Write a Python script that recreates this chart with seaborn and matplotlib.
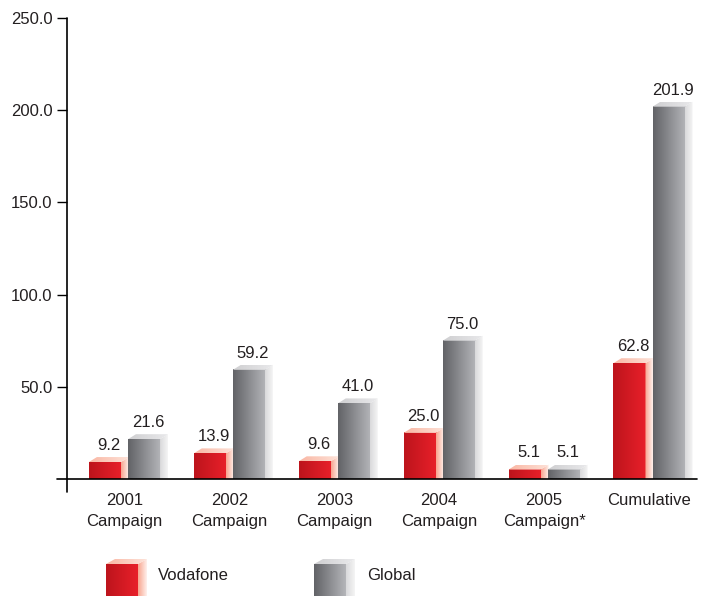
import numpy as np
import pandas as pd
import seaborn as sns
import matplotlib.pyplot as plt
from matplotlib.patches import Polygon
from matplotlib.colors import LinearSegmentedColormap

# data
categories = ['2001\nCampaign', '2002\nCampaign', '2003\nCampaign',
              '2004\nCampaign', '2005\nCampaign*', 'Cumulative']
vodafone = [9.2, 13.9, 9.6, 25.0, 5.1, 62.8]
global_vals = [21.6, 59.2, 41.0, 75.0, 5.1, 201.9]
series = ['Vodafone', 'Global']
yticks = [50, 100, 150, 200, 250]

df = pd.DataFrame({'cat': categories * 2,
                   'series': [series[0]] * 6 + [series[1]] * 6,
                   'value': vodafone + global_vals})

# colours: front / side / top gradients (left -> right)
shades = {
    'Vodafone': dict(front=('#bd141c', '#e8202a'), side=('#f8a48e', '#fff1ec'),
                     top=('#fab7a4', '#fde2d8'), flat='#e01f26'),
    'Global': dict(front=('#626367', '#b4b5b9'), side=('#d9d9db', '#f5f5f5'),
                   top=('#cfcfd1', '#e9e9eb'), flat='#8a8b8f'),
}
TXT = '#231f20'

sns.set_style('white')
plt.rcParams['font.family'] = ['Liberation Sans', 'DejaVu Sans']
plt.rcParams['font.size'] = 12

fig = plt.figure(figsize=(7.1, 5.96), dpi=100)
ax = fig.add_axes([67 / 710, 1 - 479 / 596, 638 / 710, 461 / 596])

sns.barplot(data=df, x='cat', y='value', hue='series', width=0.745, gap=0.18,
            palette=[shades[s]['flat'] for s in series], legend=False, ax=ax)


def grad(a, extent, c0, c1, clip=None, z=2):
    cmap = LinearSegmentedColormap.from_list('g', [c0, c1])
    im = a.imshow(np.linspace(0, 1, 64).reshape(1, -1), cmap=cmap, extent=extent,
                  aspect='auto', zorder=z, interpolation='bilinear')
    if clip is not None:
        im.set_clip_path(clip)
    return im


def box3d(a, x, y0, w, h, dx, dy, sh, z=2):
    # front face
    grad(a, (x, x + w, y0, y0 + h), *sh['front'], z=z)
    # side face
    side = Polygon([(x + w, y0), (x + w + dx, y0), (x + w + dx, y0 + h + dy), (x + w, y0 + h)],
                   closed=True, fc='none', ec='none')
    a.add_patch(side)
    grad(a, (x + w, x + w + dx, y0, y0 + h + dy), *sh['side'], clip=side, z=z)
    # top face
    top = Polygon([(x, y0 + h), (x + w, y0 + h), (x + w + dx, y0 + h + dy), (x + dx, y0 + h + dy)],
                  closed=True, fc='none', ec='none')
    a.add_patch(top)
    grad(a, (x, x + w + dx, y0 + h, y0 + h + dy), *sh['top'], clip=top, z=z)


DX, DY = 0.076, 2.7
bars = list(ax.patches)
for i, p in enumerate(bars):
    s = series[0] if i < len(categories) else series[1]
    x, w, h = p.get_x(), p.get_width(), p.get_height()
    p.set_facecolor('none')
    p.set_edgecolor('none')
    box3d(ax, x, 0, w, h, DX, DY, shades[s])
    ax.annotate(f'{h:.1f}', (x + w / 2 + DX / 2, h + DY), xytext=(0, 3),
                textcoords='offset points', ha='center', va='bottom', color=TXT)

ax.set_xlim(-0.548, 5.534)
ax.set_ylim(0, 250)
ax.set_yticks(yticks)
ax.set_yticklabels([f'{v:.1f}' for v in yticks])
ax.set_xlabel('')
ax.set_ylabel('')
ax.tick_params(axis='y', left=True, length=7.5, width=1, pad=3, colors='black', labelcolor=TXT)
ax.tick_params(axis='x', bottom=False, length=0, pad=10, labelcolor=TXT)
for t in ax.get_xticklabels():
    t.set_linespacing(1.5)
for sp in ax.spines.values():
    sp.set_visible(False)
ax.plot([0, 0], [-0.028, 1], transform=ax.transAxes, color='black', lw=1.2, clip_on=False, zorder=5)
ax.plot([-0.016, 0.987], [0, 0], transform=ax.transAxes, color='black', lw=1.2, clip_on=False, zorder=5)

# legend drawn as 3D boxes in pixel space
lg = fig.add_axes([0, 0, 1, 60 / 596])
lg.set_xlim(0, 710)
lg.set_ylim(0, 60)
lg.axis('off')
for s, x0, tx in [(series[0], 106, 158), (series[1], 314, 367)]:
    box3d(lg, x0, 0, 32, 32, 9, 5, shades[s])
    lg.text(tx, 21, s, ha='left', va='center', color=TXT)
lg.set_xlim(0, 710)
lg.set_ylim(0, 60)

fig.savefig('out.png', dpi=100)
